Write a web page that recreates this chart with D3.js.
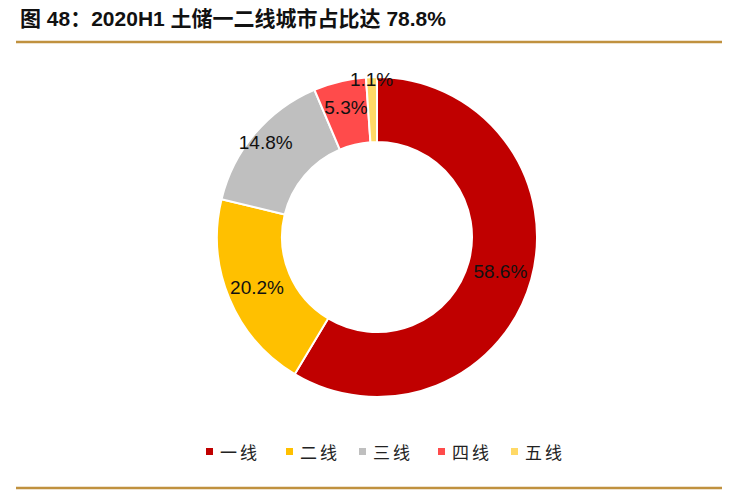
<!DOCTYPE html>
<html><head><meta charset="utf-8">
<script src="https://cdn.jsdelivr.net/npm/d3@7"></script>
<style>body{margin:0;background:#fff}</style>
</head><body>
<svg id="chart" width="734" height="491"></svg>
<script>
var categories = ["一线", "二线", "三线", "四线", "五线"];
var values = [58.6, 20.2, 14.8, 5.3, 1.1];
var labels = ["58.6%", "20.2%", "14.8%", "5.3%", "1.1%"];
var colors = ["#c00000", "#ffc000", "#bfbfbf", "#ff4b4b", "#ffd966"];

var svg = d3.select("#chart");

svg.append("text").attr("x", 20).attr("y", 26)
  .attr("font-family", "Arial, 'Noto Sans CJK SC', sans-serif")
  .attr("font-size", 21).attr("font-weight", "bold").attr("fill", "#111")
  .text("图 48：2020H1 土储一二线城市占比达 78.8%");

svg.append("line").attr("x1", 16).attr("x2", 722).attr("y1", 42).attr("y2", 42)
  .attr("stroke", "#c0913f").attr("stroke-width", 2.5);
svg.append("line").attr("x1", 16).attr("x2", 722).attr("y1", 488).attr("y2", 488)
  .attr("stroke", "#c0913f").attr("stroke-width", 2.5);

var cx = 377, cy = 237, R = 160, r = 95;
// label distance from centre for each slice (roughly as in the picture)
var labelR = [128, 130, 146, 133, 158];
var pie = d3.pie().sort(null).value(function(d){ return d; });
var arc = d3.arc().innerRadius(r).outerRadius(R);
var g = svg.append("g").attr("transform", "translate(" + cx + "," + cy + ")");
var arcs = pie(values);

g.selectAll("path").data(arcs).enter().append("path")
  .attr("d", arc)
  .attr("fill", function(d, i){ return colors[i]; })
  .attr("stroke", "#fff").attr("stroke-width", 2);

g.selectAll("text.lbl").data(arcs).enter().append("text").attr("class", "lbl")
  .attr("transform", function(d, i){
    var c = d3.arc().innerRadius(labelR[i]).outerRadius(labelR[i]).centroid(d);
    return "translate(" + c + ")";
  })
  .attr("text-anchor", "middle").attr("dy", "0.35em")
  .attr("font-family", "Arial, Liberation Sans, sans-serif").attr("font-size", 19).attr("fill", "#111")
  .text(function(d, i){ return labels[i]; });

var legendX = [206, 286, 359, 438, 511];
var lg = svg.append("g");
categories.forEach(function(c, i){
  lg.append("rect").attr("x", legendX[i]).attr("y", 448).attr("width", 7).attr("height", 7).attr("fill", colors[i]);
  lg.append("text").attr("x", legendX[i] + 14).attr("y", 459)
    .attr("font-family", "'Noto Sans CJK SC', sans-serif").attr("font-size", 17).attr("fill", "#222")
    .attr("letter-spacing", 3).text(c);
});
</script>
</body></html>
